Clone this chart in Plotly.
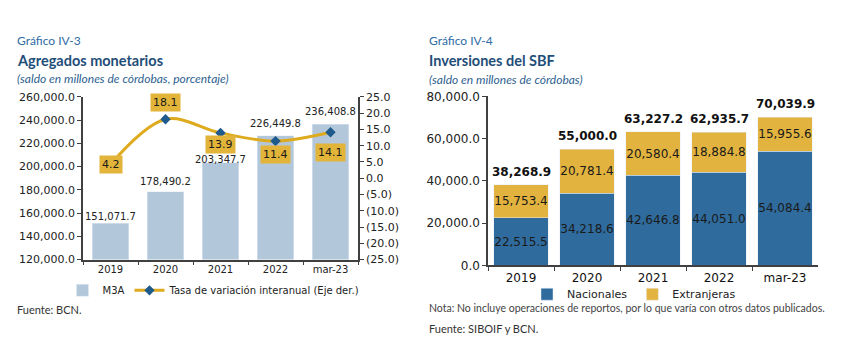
import plotly.graph_objects as go

W, H = 843, 354

# ---------- data ----------
cats = ["2019", "2020", "2021", "2022", "mar-23"]
m3a = [151071.7, 178490.2, 203347.7, 226449.8, 236408.8]
tasa = [4.2, 18.1, 13.9, 11.4, 14.1]

nacionales = [22515.5, 34218.6, 42646.8, 44051.0, 54084.4]
extranjeras = [15753.4, 20781.4, 20580.4, 18884.8, 15955.6]
totales = [38268.9, 55000.0, 63227.2, 62935.7, 70039.9]

left_yticks = list(range(120000, 260001, 20000))
right_yticks = list(range(-25, 26, 5))
right_yticktext = [f"({abs(v):.1f})" if v < 0 else f"{v:.1f}" for v in right_yticks]
sbf_yticks = list(range(0, 80001, 20000))

# ---------- style ----------
FONT = "DejaVu Sans"
HFONT = "Lato"
C_M3A = "#B3C7DA"
C_LINE = "#DEAA1E"
C_MARK = "#1F5A8C"
C_LABEL = "#E2B43A"
C_NAC = "#2F6B9C"
C_EXT = "#E2B33E"
C_AX = "#404040"
C_TITLE = "#1F4E79"
# label offsets (px) as placed in the original
tasa_label_shift = [0, 17, -12, -13, -20]
m3a_label_shift = [7, 10, 3, 12, 13]


def px_x(p):
    return p / W


def px_y(p):
    return 1 - p / H


fig = go.Figure()

# Left chart
fig.add_trace(go.Bar(
    x=cats, y=m3a, name="M3A", marker=dict(color=C_M3A), width=0.66,
    xaxis="x", yaxis="y", legend="legend",
))
fig.add_trace(go.Scatter(
    x=cats, y=tasa, name="Tasa de variación interanual (Eje der.)",
    mode="lines+markers", line=dict(color=C_LINE, width=3, shape="spline", smoothing=1.0),
    marker=dict(symbol="diamond", size=8, color=C_MARK),
    xaxis="x", yaxis="y2", legend="legend",
))

# Right chart
fig.add_trace(go.Bar(
    x=cats, y=nacionales, name="Nacionales", marker=dict(color=C_NAC), width=0.83,
    text=[f"{v:,.1f}" for v in nacionales], textposition="inside", insidetextanchor="middle",
    textangle=0,
    textfont=dict(size=12, color="#1a1a1a", family=FONT), constraintext="none",
    xaxis="x2", yaxis="y3", legend="legend2",
))
fig.add_trace(go.Bar(
    x=cats, y=extranjeras, name="Extranjeras", marker=dict(color=C_EXT), width=0.83,
    text=[f"{v:,.1f}" for v in extranjeras], textposition="inside", insidetextanchor="middle",
    textangle=0,
    textfont=dict(size=12, color="#1a1a1a", family=FONT), constraintext="none",
    xaxis="x2", yaxis="y3", legend="legend2",
))

annotations = []
# bar value labels (left chart)
for i, (v, s) in enumerate(zip(m3a, m3a_label_shift)):
    annotations.append(dict(
        x=i, y=v, xref="x", yref="y", text=f"{v:,.1f}", showarrow=False,
        yanchor="middle", yshift=s, font=dict(size=10, color="#222", family=FONT),
    ))
# line value labels
for i, (v, s) in enumerate(zip(tasa, tasa_label_shift)):
    annotations.append(dict(
        x=i, y=v, xref="x", yref="y2", text=f"{v:.1f}", showarrow=False,
        yshift=s, bgcolor=C_LABEL, borderpad=2,
        font=dict(size=11, color="#1a1a1a", family=FONT),
    ))
# totals
for i, t in enumerate(totales):
    annotations.append(dict(
        x=i, y=t, xref="x2", yref="y3", text=f"<b>{t:,.1f}</b>", showarrow=False,
        yanchor="bottom", yshift=4, font=dict(size=12, color="#111", family=FONT),
    ))

# headers & footers
def txt(x, y, text, size, color, family=HFONT):
    annotations.append(dict(
        x=px_x(x), y=px_y(y), xref="paper", yref="paper", text=text,
        showarrow=False, xanchor="left", yanchor="middle",
        font=dict(size=size, color=color, family=family),
    ))

txt(15, 35, "Gráfico IV-3", 12, "#2E6CA4")
txt(15, 56, "<b>Agregados monetarios</b>", 14.5, C_TITLE)
txt(15, 74, "<i>(saldo en millones de córdobas, porcentaje)</i>", 12, "#2E5F90")
txt(15, 315, "Fuente: BCN.", 11, "#333")

txt(427, 35, "Gráfico IV-4", 12, "#2E6CA4")
txt(427, 56, "<b>Inversiones del SBF</b>", 14.5, C_TITLE)
txt(427, 75, "<i>(saldo en millones de córdobas)</i>", 12, "#2E5F90")
txt(427, 313, "Nota: No incluye operaciones de reportos, por lo que varía con otros datos publicados.", 10.5, "#444")
txt(427, 335, "Fuente: SIBOIF y BCN.", 11, "#333")

axis_common = dict(showline=True, linecolor=C_AX, linewidth=1.5, ticks="outside",
                   ticklen=4, tickcolor=C_AX, showgrid=False, zeroline=False)

fig.update_layout(
    width=W, height=H, margin=dict(l=0, r=0, t=0, b=0),
    paper_bgcolor="white", plot_bgcolor="white",
    font=dict(family=FONT, size=11, color="#222"),
    barmode="stack", showlegend=True,
    uniformtext=dict(minsize=10, mode="show"),
    xaxis=dict(domain=[px_x(83), px_x(358)], anchor="y", type="category",
               categoryorder="array", categoryarray=cats, range=[-0.5, 4.5], autorange=False,
               tickson="boundaries", tickangle=0,
               tickfont=dict(size=10, color="#222"), **axis_common),
    yaxis=dict(domain=[px_y(263), px_y(93.5)], anchor="x", range=[120000, 260000],
               tickvals=left_yticks, tickformat=",.1f",
               tickfont=dict(size=11, color="#222"), **axis_common),
    yaxis2=dict(overlaying="y", side="right", anchor="x", range=[-25, 25],
                tickvals=right_yticks, ticktext=right_yticktext,
                tickfont=dict(size=11, color="#222"), **axis_common),
    xaxis2=dict(domain=[px_x(488), px_x(818)], anchor="y3", type="category",
                categoryorder="array", categoryarray=cats, range=[-0.5, 4.5], autorange=False,
                tickson="boundaries", tickangle=0,
                tickfont=dict(size=12, color="#111"), **axis_common),
    yaxis3=dict(domain=[px_y(269), px_y(93)], anchor="x2", range=[0, 80000],
                tickvals=sbf_yticks, tickformat=",.1f",
                tickfont=dict(size=12, color="#222"), **axis_common),
    legend=dict(orientation="h", x=px_x(214), xanchor="center", y=px_y(295), yanchor="middle",
                font=dict(size=10, color="#222", family=FONT), itemwidth=30,
                traceorder="normal", bgcolor="rgba(0,0,0,0)"),
    legend2=dict(orientation="h", x=px_x(634), xanchor="center", y=px_y(299), yanchor="middle",
                 font=dict(size=11, color="#222", family=FONT), itemwidth=30,
                 traceorder="normal", bgcolor="rgba(0,0,0,0)"),
    annotations=annotations,
)

fig.write_html("out.html")
